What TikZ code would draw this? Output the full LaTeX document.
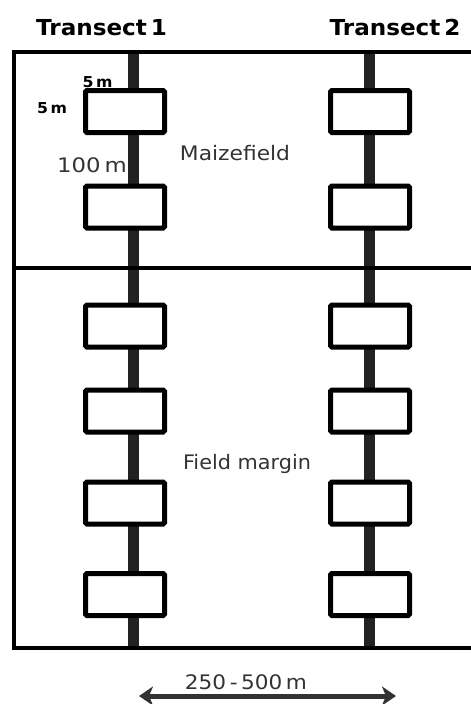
\documentclass[tikz,border=0pt]{standalone}
\usepackage{fontspec}
\usetikzlibrary{arrows.meta}
\newfontfamily\labfont{DejaVu Sans}
\newfontfamily\labbold{DejaVu Sans Bold}
\definecolor{txtgray}{HTML}{333333}
\definecolor{linegray}{HTML}{222222}
\tikzset{
  plotbox/.style={draw=black, fill=white, line width=5pt, rounded corners=1.5pt,
    minimum width=79pt, minimum height=42pt, inner sep=0pt},
  frameline/.style={line width=3.5pt, black},
  transline/.style={line width=11pt, linegray},
  title/.style={anchor=base, inner sep=0pt, font=\labbold\fontsize{22}{24}\selectfont, xscale=1.05},
  lab/.style={anchor=base, inner sep=0pt, text=txtgray, font=\labfont\fontsize{20}{22}\selectfont},
  smalllab/.style={anchor=base, inner sep=0pt, text=black, font=\labbold\fontsize{15}{17}\selectfont, xscale=1.05},
  dimarrow/.style={line width=5pt, txtgray, {Stealth[length=14pt,width=19pt,inset=4pt]}-{Stealth[length=14pt,width=19pt,inset=4pt]}}
}
\begin{document}
\begin{tikzpicture}[x=1pt,y=-1pt]
\useasboundingbox (0,0) rectangle (471,704);
\begin{scope}
\clip (0,0) rectangle (471,704);
% transect lines
\coordinate (t1top) at (133,52);
\coordinate (t1bot) at (133,648);
\coordinate (t2top) at (369,52);
\coordinate (t2bot) at (369,648);
\draw[transline] (t1top) -- (t1bot);
\draw[transline] (t2top) -- (t2bot);
% frame
\coordinate (ftr) at (475,52);
\coordinate (ftl) at (14,52);
\coordinate (fbl) at (14,648);
\coordinate (fbr) at (475,648);
\coordinate (dl) at (14,268);
\coordinate (dr) at (475,268);
\draw[frameline] (ftr) -- (ftl) -- (fbl) -- (fbr);
\draw[frameline] (dl) -- (dr);
\end{scope}
% plots transect 1
\node[plotbox] (a1) at (125,111.5) {};
\node[plotbox] (a2) at (125,207) {};
\node[plotbox] (a3) at (125,326) {};
\node[plotbox] (a4) at (125,411) {};
\node[plotbox] (a5) at (125,503) {};
\node[plotbox] (a6) at (125,594.5) {};
% plots transect 2
\node[plotbox] (b1) at (370,111.5) {};
\node[plotbox] (b2) at (370,207) {};
\node[plotbox] (b3) at (370,326) {};
\node[plotbox] (b4) at (370,411) {};
\node[plotbox] (b5) at (370,503) {};
\node[plotbox] (b6) at (370,594.5) {};
% titles
\node[title] (tt1) at (101.5,35) {Transect\,1};
\node[title] (tt2) at (395,35) {Transect\,2};
% labels
\node[smalllab] (w5) at (97.5,87) {5\,m};
\node[smalllab] (h5) at (52,113) {5\,m};
\node[lab, xscale=1.14] (d100) at (92,172) {100\,m};
\node[lab, xscale=1.09] (maize) at (235,160) {Maizefield};
\node[lab, xscale=1.04] (margin) at (247,469) {Field margin};
\node[lab, xscale=1.08] (dist) at (246,689) {250\,-\,500\,m};
% distance arrow
\coordinate (arl) at (139,696);
\coordinate (arr) at (396,696);
\draw[dimarrow] (arl) -- (arr);
\end{tikzpicture}
\end{document}
